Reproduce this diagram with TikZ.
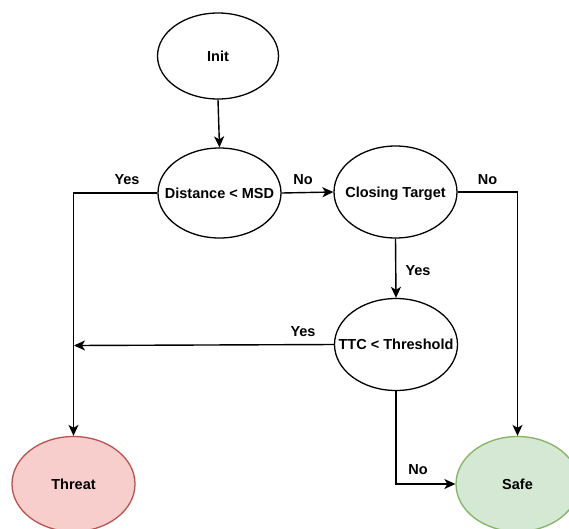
\documentclass[tikz,border=0pt]{standalone}
\usepackage{fontspec}
\setmainfont{Liberation Sans}
\usetikzlibrary{shapes.geometric,arrows.meta}
\definecolor{threatfill}{HTML}{F8CECC}
\definecolor{threatline}{HTML}{B85450}
\definecolor{safefill}{HTML}{D5E8D4}
\definecolor{safeline}{HTML}{82B366}
\newcommand{\ovaltext}[1]{\makebox[0pt]{#1}}
\tikzset{
  stateoval/.style={ellipse, draw=black, line width=1.3pt, fill=white,
    minimum width=123pt, minimum height=92pt, inner sep=0pt,
    text height=10.4pt, text depth=0pt,
    font=\fontsize{14.5}{17}\selectfont\bfseries},
  threatoval/.style={stateoval, draw=threatline, fill=threatfill, minimum height=95pt},
  safeoval/.style={stateoval, draw=safeline, fill=safefill, minimum height=95pt},
  flow/.style={line width=1.4pt, -{Stealth[length=11pt,width=10pt,inset=3pt]}},
  branch/.style={font=\fontsize{14.5}{17}\selectfont\bfseries, inner sep=0pt,
    text height=10.4pt, text depth=0pt}
}
\begin{document}
\begin{tikzpicture}[x=1pt,y=-1pt]
  \clip (0,0) rectangle (569,528);
  \fill[white] (0,0) rectangle (569,528);

  % decision states
  \node[stateoval, minimum width=121pt, minimum height=86pt] (init) at (218,56) {\ovaltext{Init}};
  \node[stateoval, minimum height=90pt] (dist) at (219.5,193) {\ovaltext{Distance < MSD}};
  \node[stateoval] (closing) at (395.5,192) {\ovaltext{Closing Target}};
  \node[stateoval] (ttc) at (396,344.5) {\ovaltext{TTC < Threshold}};

  % outcomes
  \node[threatoval] (threat) at (73.5,484) {\ovaltext{Threat}};
  \node[safeoval] (safe) at (517.5,484) {\ovaltext{Safe}};

  % junction on the Yes line down to Threat
  \coordinate (merge) at (74,345.5);

  % connectors
  \draw[flow] (init.south) -- (dist.north);
  \draw[flow] (dist.west) -| (threat.north);
  \draw[flow] (dist.east) -- (closing.west);
  \draw[flow] (closing.east) -| (safe.north);
  \draw[flow] (closing.south) -- (ttc.north);
  \draw[flow] (ttc.west) -- (merge);
  \draw[flow] (ttc.south) |- (safe.west);

  % branch labels
  \node[branch] (l1) at (127,179) {Yes};
  \node[branch] (l2) at (303,179) {No};
  \node[branch] (l3) at (487.5,179) {No};
  \node[branch] (l4) at (418,270.5) {Yes};
  \node[branch] (l5) at (303,331) {Yes};
  \node[branch] (l6) at (418,469.5) {No};
\end{tikzpicture}
\end{document}
